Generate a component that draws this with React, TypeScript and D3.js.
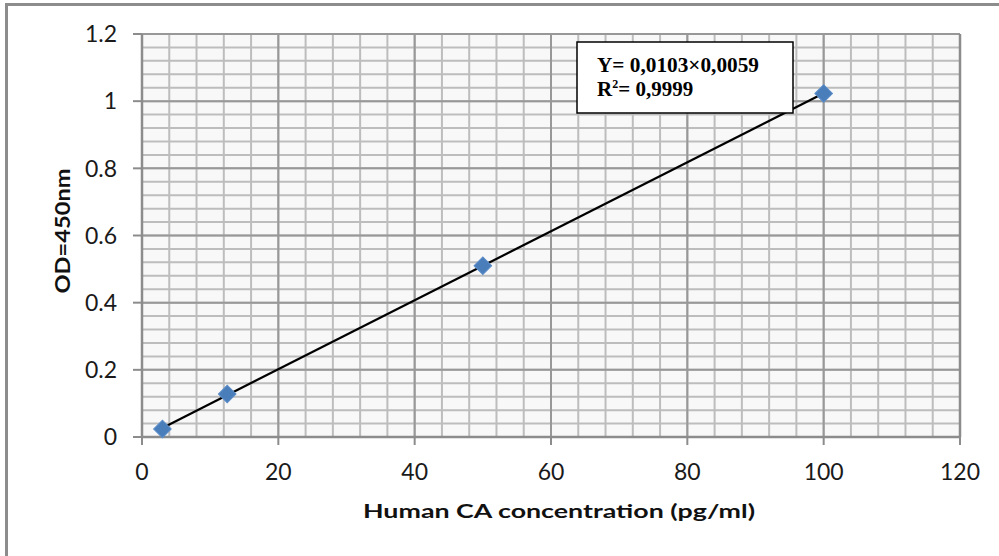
import React from "react";
import * as d3 from "d3";

const concentrations = [3, 12.5, 50, 100];
const odValues = [0.024, 0.128, 0.51, 1.023];
const xTicks = [0, 20, 40, 60, 80, 100, 120];
const yTicks = [0, 0.2, 0.4, 0.6, 0.8, 1, 1.2];
const xTitle = "Human CA concentration (pg/ml)";
const yTitle = "OD=450nm";
const eqLine1 = "Y= 0,0103\u00d70,0059";
const eqLine2Base = "R";
const eqLine2Rest = "= 0,9999";

const W = 999;
const H = 556;
const left = 142;
const right = 960;
const top = 34;
const bottom = 437;

export default function App() {
  const x = d3.scaleLinear().domain([0, 120]).range([left, right]);
  const y = d3.scaleLinear().domain([0, 1.2]).range([bottom, top]);

  const minorX = d3.range(0, 121, 4);
  const minorY = d3.range(0, 1.2001, 0.04);

  // least-squares fit
  const n = concentrations.length;
  const mx = d3.mean(concentrations)!;
  const my = d3.mean(odValues)!;
  let sxy = 0, sxx = 0;
  for (let i = 0; i < n; i++) {
    sxy += (concentrations[i] - mx) * (odValues[i] - my);
    sxx += (concentrations[i] - mx) ** 2;
  }
  const slope = sxy / sxx;
  const intercept = my - slope * mx;
  const x0 = d3.min(concentrations)!;
  const x1 = d3.max(concentrations)!;
  const line = d3.line<number>().x((v) => x(v)).y((v) => y(slope * v + intercept));

  const diamond = d3.symbol().type(d3.symbolSquare).size(155)();

  const tickFont = "Lato, 'Open Sans', sans-serif";
  const serif = "'Liberation Serif', 'Times New Roman', serif";

  return (
    <div style={{ position: "fixed", left: 0, top: 0 }}>
      <svg width={W} height={H} style={{ display: "block", background: "#fff" }}>
        <rect x={6.5} y={4.5} width={1200} height={800} fill="#fff" stroke="#8c8c8c" strokeWidth={3} />
        <rect x={left} y={top} width={right - left} height={bottom - top} fill="#f8f8f8" />
        {minorX.map((v) => (
          <line key={"mx" + v} x1={x(v)} x2={x(v)} y1={top} y2={bottom} stroke="#bdbdbd" strokeWidth={2} />
        ))}
        {minorY.map((v, i) => (
          <line key={"my" + i} x1={left} x2={right} y1={y(v)} y2={y(v)} stroke="#bdbdbd" strokeWidth={2} />
        ))}
        {xTicks.map((v) => (
          <line key={"Mx" + v} x1={x(v)} x2={x(v)} y1={top} y2={bottom} stroke="#989898" strokeWidth={2} />
        ))}
        {yTicks.map((v) => (
          <line key={"My" + v} x1={left} x2={right} y1={y(v)} y2={y(v)} stroke="#989898" strokeWidth={2} />
        ))}
        {/* axes */}
        <line x1={left} x2={left} y1={top} y2={bottom} stroke="#8c8c8c" strokeWidth={2.5} />
        <line x1={left} x2={right} y1={bottom} y2={bottom} stroke="#8c8c8c" strokeWidth={2.5} />
        <line x1={right} x2={right} y1={top} y2={bottom} stroke="#8c8c8c" strokeWidth={2.5} />
        {yTicks.map((v) => (
          <g key={"yt" + v}>
            <line x1={left - 9} x2={left} y1={y(v)} y2={y(v)} stroke="#8c8c8c" strokeWidth={2} />
            <text x={117} y={y(v)} dy="0.36em" textAnchor="end" fontFamily={tickFont} fontSize={23} fill="#1a1a1a">
              {d3.format("")(v)}
            </text>
          </g>
        ))}
        {xTicks.map((v) => (
          <g key={"xt" + v}>
            <line x1={x(v)} x2={x(v)} y1={bottom} y2={bottom + 8} stroke="#8c8c8c" strokeWidth={2} />
            <text x={x(v)} y={480} textAnchor="middle" fontFamily={tickFont} fontSize={23} fill="#1a1a1a">
              {v}
            </text>
          </g>
        ))}
        <text
          x={559}
          y={518}
          textAnchor="middle"
          fontFamily={tickFont}
          fontWeight="bold"
          fontSize={19}
          fill="#111"
          textLength={392}
          lengthAdjust="spacingAndGlyphs"
        >
          {xTitle}
        </text>
        <text
          transform={`translate(70,231) rotate(-90)`}
          textAnchor="middle"
          fontFamily={tickFont}
          fontWeight="bold"
          fontSize={20}
          fill="#111"
          textLength={125}
          lengthAdjust="spacingAndGlyphs"
        >
          {yTitle}
        </text>
        {/* trend line */}
        <path d={line([x0, x1]) || ""} fill="none" stroke="#000" strokeWidth={2.2} />
        {concentrations.map((c, i) => (
          <path
            key={"p" + i}
            d={diamond || ""}
            transform={`translate(${x(c)},${y(odValues[i])}) rotate(45)`}
            fill="#4a7ebb"
            stroke="#5b8cc8"
            strokeWidth={1}
          />
        ))}
        {/* equation box */}
        <rect x={577} y={42} width={216} height={71} fill="#fff" stroke="#000" strokeWidth={1.5} />
        <text
          x={597}
          y={72}
          fontFamily={serif}
          fontWeight="bold"
          fontSize={21}
          fill="#000"
          textLength={162}
          lengthAdjust="spacingAndGlyphs"
        >
          {eqLine1}
        </text>
        <text x={597} y={96} fontFamily={serif} fontWeight="bold" fontSize={21} fill="#000">
          {eqLine2Base}
          <tspan dy={-8} fontSize={12}>2</tspan>
          <tspan dy={8}>{eqLine2Rest}</tspan>
        </text>
      </svg>
    </div>
  );
}
